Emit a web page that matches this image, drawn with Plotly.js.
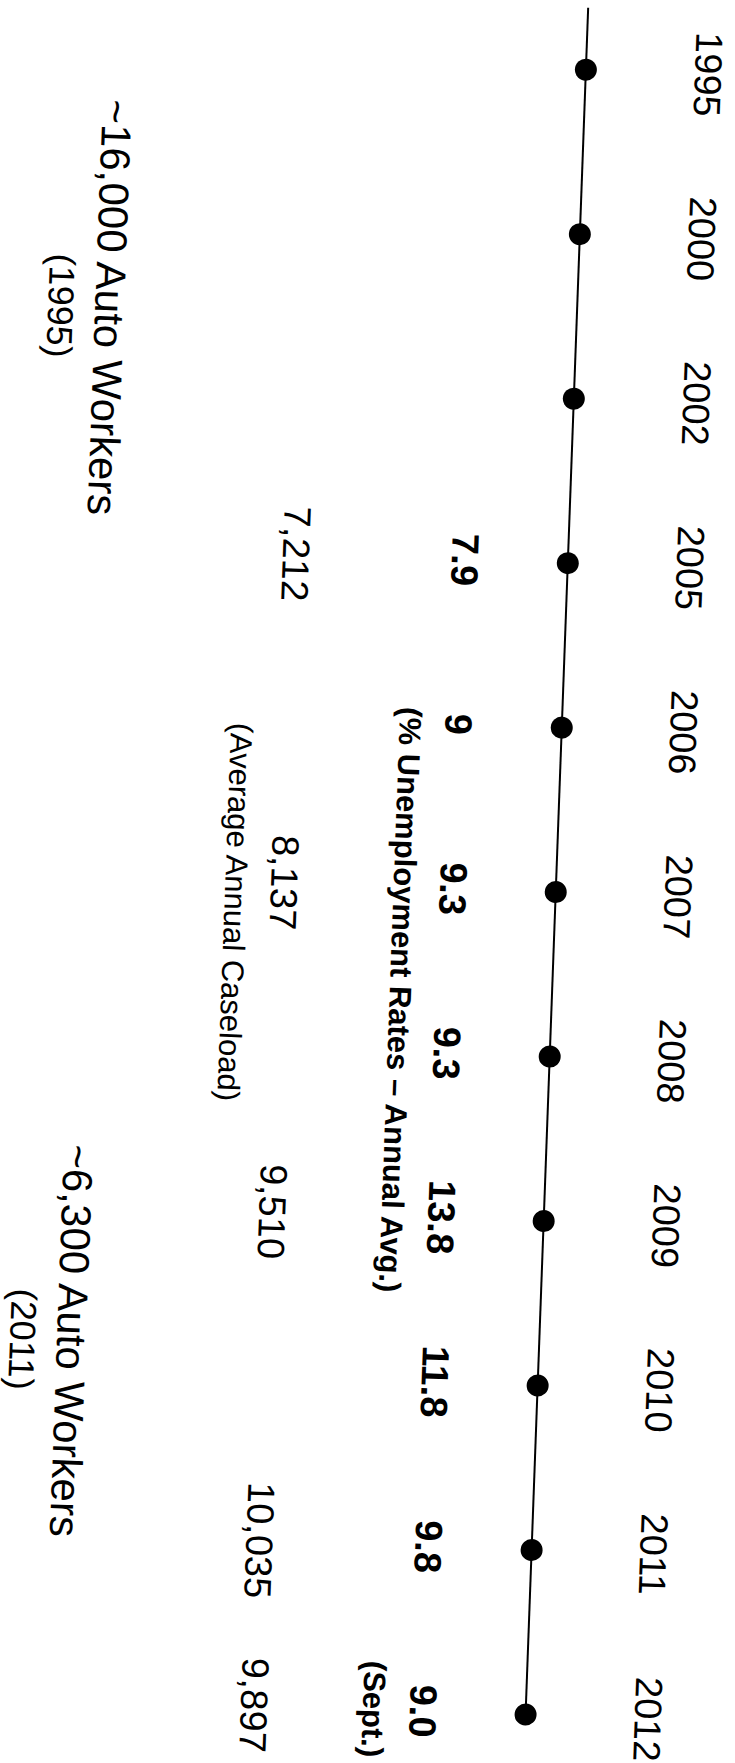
<!DOCTYPE html>
<html>
<head>
<meta charset="utf-8">
<script src="https://cdn.plot.ly/plotly-3.0.1.min.js"></script>
<style>
  html, body { margin: 0; padding: 0; background: #ffffff; overflow: hidden; }
  #chart { width: 735px; height: 1763px; transform: rotate(2.1deg); transform-origin: 50% 50%; }
</style>
</head>
<body>
<div id="chart"></div>
<script>
// ---- Data ----
const years = ['1995', '2000', '2002', '2005', '2006', '2007', '2008', '2009', '2010', '2011', '2012'];

const unemploymentYears = ['2005', '2006', '2007', '2008', '2009', '2010', '2011', '2012'];
const unemploymentText  = ['7.9', '9', '9.3', '9.3', '13.8', '11.8', '9.8', '9.0'];
const unemploymentLabel = '(% Unemployment Rates \u2013 Annual Avg.)';
const partialYearNote   = '(Sept.)';

const caseloadYears = ['2005', '2007', '2009', '2011', '2012'];
const caseload      = [7212, 8137, 9510, 10035, 9897];
const caseloadLabel = '(Average Annual Caseload)';

const autoWorkerYears  = ['1995', '2011'];
const autoWorkerCounts = [16000, 6300];

// ---- Layout constants ----
const FONT = '"Liberation Sans", Arial, Helvetica, sans-serif';
const COL = { timeline: 556, year: 678, unemp: 453, unempNote: 404, caseload: 284, caseNote: 236, auto: 89, autoYear: 40 };
const Y_RANGE = [10.333, -0.378];
const LABEL_POS = { unempHeader: 5.69, caseHeader: 5.19, auto: [1.55, 7.83] };

const fmt = n => n.toLocaleString('en-US');
const idx = y => years.indexOf(y);

const annotations = [];
function addText(x, y, text, size, bold) {
  annotations.push({
    xref: 'x', yref: 'y', x: x, y: y,
    text: bold ? '<b>' + text + '</b>' : text,
    showarrow: false, textangle: 90,
    xanchor: 'center', yanchor: 'middle',
    font: { family: FONT, size: size, color: '#000000' }
  });
}

years.forEach(y => addText(COL.year, idx(y), y, 38, false));
unemploymentYears.forEach((y, i) => addText(COL.unemp, idx(y), unemploymentText[i], 38, true));
addText(COL.unempNote, idx(unemploymentYears[unemploymentYears.length - 1]), partialYearNote, 31, true);
addText(COL.unempNote, LABEL_POS.unempHeader, unemploymentLabel, 31, true);
caseloadYears.forEach((y, i) => addText(COL.caseload, idx(y), fmt(caseload[i]), 38, false));
addText(COL.caseNote, LABEL_POS.caseHeader, caseloadLabel, 31, false);
autoWorkerYears.forEach((y, i) => {
  addText(COL.auto, LABEL_POS.auto[i], '~' + fmt(autoWorkerCounts[i]) + ' Auto Workers', 42, false);
  addText(COL.autoYear, LABEL_POS.auto[i], '(' + y + ')', 36, false);
});

const traces = [{
  type: 'scatter', mode: 'markers',
  x: years.map(() => COL.timeline),
  y: years,
  marker: { size: 22, color: '#000000', symbol: 'circle' },
  hoverinfo: 'skip'
}];

const layout = {
  width: 735, height: 1763,
  margin: { l: 0, r: 0, t: 0, b: 0, pad: 0 },
  paper_bgcolor: '#ffffff', plot_bgcolor: '#ffffff',
  showlegend: false,
  xaxis: { range: [0, 735], visible: false, fixedrange: true },
  yaxis: { type: 'category', categoryarray: years, categoryorder: 'array', range: Y_RANGE, autorange: false, visible: false, fixedrange: true },
  shapes: [{
    type: 'line', layer: 'below', xref: 'x', yref: 'y',
    x0: COL.timeline, x1: COL.timeline, y0: Y_RANGE[1], y1: years.length - 1,
    line: { color: '#000000', width: 2 }
  }],
  annotations: annotations
};

Plotly.newPlot('chart', traces, layout, { staticPlot: true, displayModeBar: false });
</script>
</body>
</html>
